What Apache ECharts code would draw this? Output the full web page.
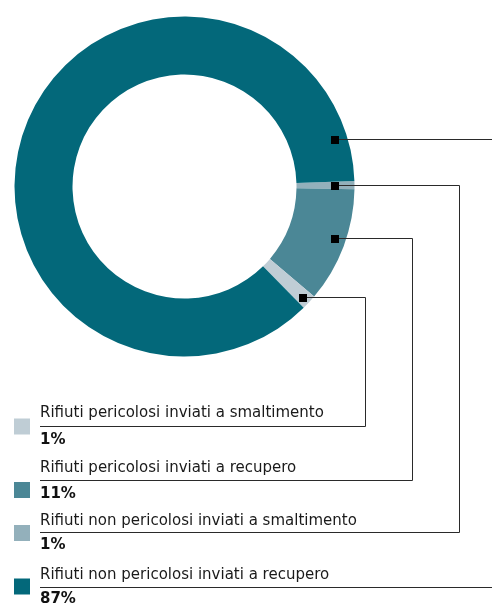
<!DOCTYPE html>
<html>
<head>
<meta charset="utf-8">
<script src="https://cdn.jsdelivr.net/npm/echarts@6/dist/echarts.min.js"></script>
<style>
html,body{margin:0;padding:0;background:#fff;}
#c{width:492px;height:605px;}
</style>
</head>
<body>
<div id="c"></div>
<script>
// ---- data (clockwise from the start angle) ----
var categories = [
  'Rifiuti non pericolosi inviati a smaltimento',
  'Rifiuti pericolosi inviati a recupero',
  'Rifiuti pericolosi inviati a smaltimento',
  'Rifiuti non pericolosi inviati a recupero'
];
var values = [0.78, 10.93, 1.44, 86.85];
var colors = ['#93b0bb', '#4b8796', '#bfcdd5', '#03687a'];
// legend order (top to bottom) as indices into categories
var legendOrder = [2, 1, 0, 3];

// ---- layout (annotations only) ----
var CX = 184.5, CY = 186.5, R0 = 112, R1 = 170;
// anchor position inside each slice: fraction of sweep, radius
var anchorFrac = [0.5, 0.454, 0.5, 0.95];
var anchorRad = [150.5, 159, 162.3, 157.8];
// per legend row: title y, pct y, underline y, square top, vertical line x
var rowTitleY = [413, 468.5, 521.5, 575];
var rowPctY = [440.5, 494, 545.5, 599];
var rowLineY = [426.5, 480.5, 532.5, 587.5];
var rowSqY = [418.5, 482, 525, 578.5];
var rowVX = [365.5, 412.5, 459.5, 492];

var chart = echarts.init(document.getElementById('c'), null, {renderer: 'canvas'});
chart.setOption({
  animation: false,
  backgroundColor: '#ffffff',
  series: [{
    type: 'pie',
    silent: true,
    center: [CX, CY],
    radius: [R0, R1],
    startAngle: 1.85,
    clockwise: true,
    avoidLabelOverlap: false,
    label: {show: false},
    labelLine: {show: false},
    itemStyle: {borderWidth: 0},
    emphasis: {disabled: true},
    data: categories.map(function (c, i) {
      return {name: c, value: values[i], itemStyle: {color: colors[i]}};
    })
  }]
});

var data = chart.getModel().getSeriesByIndex(0).getData();
var total = values.reduce(function (a, b) { return a + b; }, 0);
var graphics = [];
var font = '15px "DejaVu Sans"';
var fontB = 'bold 15px "DejaVu Sans"';
legendOrder.forEach(function (idx, row) {
  var lay = data.getItemLayout(idx);
  var a = lay.startAngle + (lay.endAngle - lay.startAngle) * anchorFrac[idx];
  var ax = lay.cx + anchorRad[idx] * Math.cos(a);
  var ay = Math.round(lay.cy + anchorRad[idx] * Math.sin(a)) + 0.5;
  var pts = [[ax, ay], [rowVX[row], ay]];
  if (row < 3) {
    pts.push([rowVX[row], rowLineY[row]]);
    pts.push([40, rowLineY[row]]);
  }
  graphics.push({type: 'polyline', silent: true, shape: {points: pts},
    style: {stroke: '#2a2a2a', lineWidth: 1, fill: null}, z: 10});
  if (row === 3) {
    graphics.push({type: 'line', silent: true,
      shape: {x1: 40, y1: rowLineY[row], x2: 492, y2: rowLineY[row]},
      style: {stroke: '#2a2a2a', lineWidth: 1}, z: 10});
  }
  graphics.push({type: 'rect', silent: true,
    shape: {x: Math.round(ax) - 4, y: Math.round(ay) - 4, width: 8, height: 8},
    style: {fill: '#000'}, z: 11});
  graphics.push({type: 'rect', silent: true,
    shape: {x: 14, y: rowSqY[row], width: 16, height: 16},
    style: {fill: colors[idx]}, z: 10});
  graphics.push({type: 'text', silent: true,
    style: {x: 40, y: rowTitleY[row], text: categories[idx], font: font,
      fill: '#1a1a1a', verticalAlign: 'middle', align: 'left'}, z: 10});
  graphics.push({type: 'text', silent: true,
    style: {x: 40, y: rowPctY[row], text: Math.round(values[idx] / total * 100) + '%',
      font: fontB, fill: '#111', verticalAlign: 'middle', align: 'left'}, z: 10});
});
chart.setOption({graphic: graphics});
</script>
</body>
</html>
